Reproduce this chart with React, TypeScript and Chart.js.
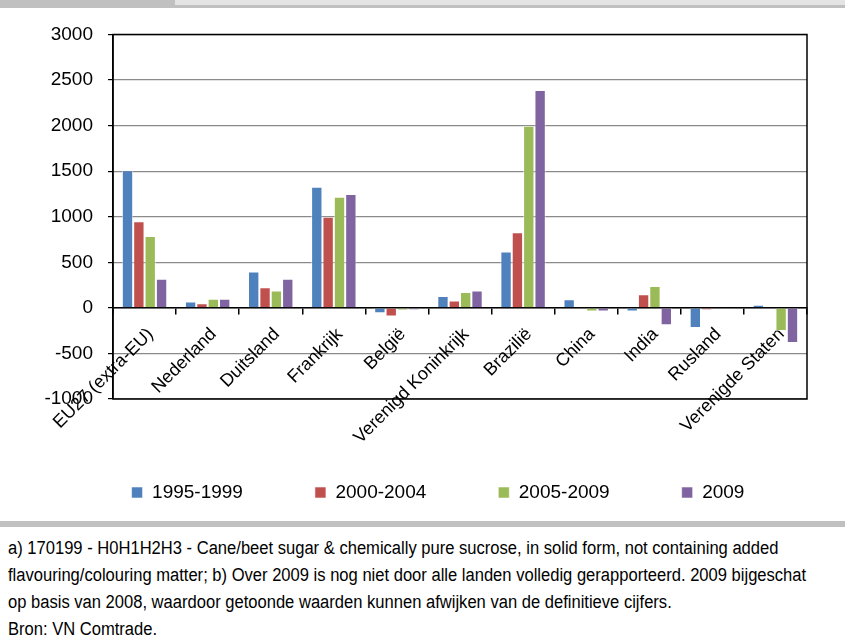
import React, { useEffect, useRef } from 'react';
import { Chart, registerables } from 'chart.js';

Chart.register(...registerables);

const categories = [
  'EU27 (extra-EU)',
  'Nederland',
  'Duitsland',
  'Frankrijk',
  'België',
  'Verenigd Koninkrijk',
  'Brazilië',
  'China',
  'India',
  'Rusland',
  'Verenigde Staten',
];
const seriesLabels = ['1995-1999', '2000-2004', '2005-2009', '2009'];
const values1995_1999 = [1510, 70, 400, 1330, -60, 130, 620, 95, -40, -220, 35];
const values2000_2004 = [950, 50, 225, 1000, -95, 80, 830, 3, 150, -25, -5];
const values2005_2009 = [790, 100, 190, 1220, -30, 175, 2000, -40, 240, -5, -255];
const values2009 = [320, 100, 320, 1250, -25, 190, 2390, -40, -190, -5, -385];
const yMin = -1000;
const yMax = 3000;
const yStep = 500;

const colors = ['#4F81BD', '#C0504D', '#9BBB59', '#8064A2'];

const footnoteLines = [
  'a) 170199 - H0H1H2H3 - Cane/beet sugar & chemically pure sucrose, in solid form, not containing added',
  'flavouring/colouring matter; b) Over 2009 is nog niet door alle landen volledig gerapporteerd. 2009 bijgeschat',
  'op basis van 2008, waardoor getoonde waarden kunnen afwijken van de definitieve cijfers.',
  'Bron: VN Comtrade.',
];

const FONT = "'Liberation Sans', Arial, sans-serif";

const framePlugin = {
  id: 'frame',
  afterDraw(chart: any) {
    const { ctx, chartArea: a } = chart;
    ctx.save();
    ctx.strokeStyle = '#000';
    ctx.lineWidth = 1.5;
    ctx.strokeRect(a.left, a.top, a.right - a.left, a.bottom - a.top);
    ctx.restore();
  },
};

export default function App() {
  const canvasRef = useRef<HTMLCanvasElement | null>(null);

  useEffect(() => {
    if (!canvasRef.current) return;
    const seriesValues = [values1995_1999, values2000_2004, values2005_2009, values2009];
    const chart = new Chart(canvasRef.current, {
      type: 'bar',
      data: {
        labels: categories,
        datasets: seriesLabels.map((label, i) => ({
          label,
          data: seriesValues[i],
          xAxisID: 'x',
          yAxisID: 'y',
          backgroundColor: colors[i],
          borderColor: 'rgba(255,255,255,0.55)',
          borderWidth: 1,
          categoryPercentage: 0.72,
          barPercentage: 1.0,
        })),
      },
      options: {
        animation: false,
        responsive: true,
        maintainAspectRatio: false,
        layout: { padding: { left: 36, right: 5, top: 34.5, bottom: 8 } },
        plugins: {
          tooltip: { enabled: false },
          legend: {
            position: 'bottom',
            labels: {
              boxWidth: 11,
              boxHeight: 11,
              padding: 72,
              color: '#000',
              font: { family: FONT, size: 19 },
            },
          },
        },
        scales: {
          x: {
            type: 'category',
            position: { y: 0 } as any,
            offset: true,
            grid: {
              offset: true,
              drawOnChartArea: false,
              tickLength: 6,
              color: '#000',
              lineWidth: 1.5,
            },
            border: { color: '#000', width: 1.5 },
            ticks: {
              minRotation: 45,
              maxRotation: 45,
              autoSkip: false,
              color: '#000',
              padding: 10,
              labelOffset: 6,
              font: { family: FONT, size: 18 },
            },
          },
          y: {
            min: yMin,
            max: yMax,
            ticks: {
              stepSize: yStep,
              color: '#000',
              padding: 15,
              font: { family: FONT, size: 19 },
              callback: (v: any) => String(v),
            },
            grid: {
              color: '#8a8a8a',
              lineWidth: 1.2,
              tickColor: '#000',
              tickLength: 5,
            },
            border: { color: '#000', width: 1.5 },
            afterFit(scale: any) {
              scale.width = 77;
            },
          },
          xs: {
            type: 'category',
            position: 'bottom',
            labels: categories,
            display: true,
            ticks: { display: false },
            grid: { display: false },
            border: { display: false },
            afterFit(scale: any) {
              scale.height = 12;
            },
          },
          yr: {
            type: 'linear',
            position: 'right',
            display: true,
            ticks: { display: false },
            grid: { display: false },
            border: { display: false },
            afterFit(scale: any) {
              scale.width = 33;
            },
          },
        },
      } as any,
      plugins: [framePlugin],
    });
    return () => chart.destroy();
  }, []);

  return (
    <div
      style={{
        position: 'fixed',
        left: 0,
        top: 0,
        width: 845,
        height: 641,
        background: '#fff',
        overflow: 'hidden',
      }}
    >
      <div style={{ position: 'absolute', left: 0, top: 0, width: 845, height: 8, background: '#c0c0c0' }} />
      <div style={{ position: 'absolute', left: 175, top: 0, width: 670, height: 4.7, background: '#e4e4e4' }} />
      <div style={{ position: 'absolute', left: 0, top: 0, width: 845, height: 520 }}>
        <canvas ref={canvasRef} />
      </div>
      <div style={{ position: 'absolute', left: 0, top: 521, width: 845, height: 6, background: '#c0c0c0' }} />
      <div
        style={{
          position: 'absolute',
          left: 8,
          top: 535,
          fontFamily: "'Liberation Sans', Arial, sans-serif",
          fontSize: 18,
          lineHeight: '27px',
          color: '#000',
          whiteSpace: 'nowrap',
          transform: 'scaleX(0.92)',
          transformOrigin: '0 0',
        }}
      >
        {footnoteLines.map((l, i) => (
          <div key={i}>{l}</div>
        ))}
      </div>
    </div>
  );
}
